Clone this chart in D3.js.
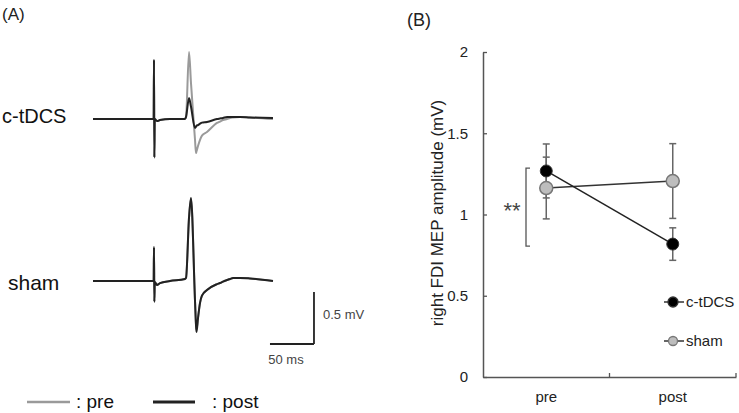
<!DOCTYPE html>
<html><head><meta charset="utf-8">
<script src="https://cdn.jsdelivr.net/npm/d3@7"></script>
<style>body{margin:0;background:#fff}svg{display:block}text{font-family:"Liberation Sans",Arial,sans-serif}</style>
</head><body><svg id="c" width="739" height="413"></svg>
<script>
// ---- Panel A: MEP traces (time in ms relative to stimulus, amplitude in mV relative to baseline)
const traceTimes = [-69.3,-0.4,0,0.4,0.9,3.4,6.8,18.2,35.2,36.4,39.8,42,46.6,47.7,48.3,50,52.3,54.5,60.2,71.6,75,78.4,83,86.4,89.8,97.7,109,135.2];
const ctdcsPre  = [0,0,0.57,-0.37,0,-0.02,-0.01,0,0,0.02,0.644,0.35,-0.2,-0.327,-0.31,-0.26,-0.2,-0.16,-0.125,-0.038,-0.025,-0.01,0,0.01,0.015,0.02,0.015,0];
const ctdcsPost = [0,0,0.57,-0.37,0,-0.02,-0.01,0,0,0.02,0.202,0.12,-0.087,-0.075,-0.065,-0.058,-0.045,-0.035,-0.029,0,0.005,0.01,0.02,0.02,0.02,0.02,0.015,0.01];
const shamPre   = [-0.01,-0.01,0.317,-0.21,-0.02,-0.048,-0.03,-0.01,0.01,0.02,0.6,0.78,-0.2,-0.42,-0.48,-0.36,-0.22,-0.15,-0.096,-0.04,-0.029,-0.015,0,0.01,0.02,0.02,0.015,-0.01];
const shamPost  = [-0.01,-0.01,0.317,-0.21,-0.02,-0.048,-0.03,-0.01,0.01,0.02,0.6,0.788,-0.2,-0.43,-0.5,-0.37,-0.22,-0.15,-0.096,-0.04,-0.029,-0.015,0,0.01,0.02,0.02,0.015,-0.01];
const traceRows = ["c-tDCS","sham"];
const scaleBarMs = 50, scaleBarMv = 0.5;
const traceLegend = [": pre", ": post"];

// ---- Panel B: MEP amplitude
const sessions = ["pre","post"];
const ctdcsMean = [1.268, 0.818];
const ctdcsErr  = [0.166, 0.100];
const shamMean  = [1.163, 1.206];
const shamErr   = [0.190, 0.230];
const yTicks = [0,0.5,1,1.5,2];
const yTickLabels = ["0","0.5","1","1.5","2"];
const groupNames = ["c-tDCS","sham"];

const svg = d3.select("#c");
const F = '"Liberation Sans",Arial,sans-serif';

// Panel labels
svg.append("text").attr("x",2).attr("y",20).attr("font-size",17).attr("fill","#222").text("(A)");
svg.append("text").attr("x",407).attr("y",26).attr("font-size",18).attr("fill","#222").text("(B)");

// ---- Panel A
const xT = d3.scaleLinear().domain([0,50]).range([154,198]);
const yC = d3.scaleLinear().domain([0,0.5]).range([119,67]);
const yS = d3.scaleLinear().domain([0,0.5]).range([280,228]);
function drawTrace(vals, y, color, w){
  const line = d3.line().x((d,i)=>xT(traceTimes[i])).y(d=>y(d)).curve(d3.curveMonotoneX);
  svg.append("path").attr("d", line(vals)).attr("fill","none").attr("stroke",color)
    .attr("stroke-width",w).attr("stroke-linejoin","round");
}
drawTrace(ctdcsPre, yC, "#9a9a9a", 2);
drawTrace(ctdcsPost, yC, "#222", 2);
drawTrace(shamPre, yS, "#9a9a9a", 2);
drawTrace(shamPost, yS, "#222", 2);

svg.append("text").attr("x",2).attr("y",123).attr("font-size",20).attr("fill","#111").text(traceRows[0]);
svg.append("text").attr("x",8).attr("y",290).attr("font-size",21).attr("fill","#111").text(traceRows[1]);

// scale bar
const sbT0 = 131.8;
const ySB = d3.scaleLinear().domain([0,0.5]).range([344,292]);
svg.append("line").attr("x1",xT(sbT0)).attr("x2",xT(sbT0+scaleBarMs)).attr("y1",ySB(0)).attr("y2",ySB(0)).attr("stroke","#222").attr("stroke-width",1.8);
svg.append("line").attr("x1",xT(sbT0+scaleBarMs)).attr("x2",xT(sbT0+scaleBarMs)).attr("y1",ySB(0)).attr("y2",ySB(scaleBarMv)).attr("stroke","#222").attr("stroke-width",1.8);
svg.append("text").attr("x",323).attr("y",319).attr("font-size",13).attr("fill","#444").text(scaleBarMv+" mV");
svg.append("text").attr("x",286).attr("y",364).attr("text-anchor","middle").attr("font-size",13).attr("fill","#444").text(scaleBarMs+" ms");

// trace legend
svg.append("line").attr("x1",27).attr("x2",70).attr("y1",402).attr("y2",402).attr("stroke","#9a9a9a").attr("stroke-width",2.5);
svg.append("text").attr("x",76).attr("y",408).attr("font-size",19).attr("fill","#111").text(traceLegend[0]);
svg.append("line").attr("x1",153).attr("x2",195).attr("y1",402).attr("y2",402).attr("stroke","#222").attr("stroke-width",3);
svg.append("text").attr("x",212).attr("y",408).attr("font-size",19).attr("fill","#111").text(traceLegend[1]);

// ---- Panel B
const x = d3.scaleBand().domain(sessions).range([483,736]);
const y = d3.scaleLinear().domain([0,2]).range([377,52]);
const axCol = "#555";
const yAxis = d3.axisLeft(y).tickValues(yTicks).tickFormat((d,i)=>yTickLabels[i]).tickSizeInner(-4).tickSizeOuter(0).tickPadding(15);
const gy = svg.append("g").attr("transform","translate(483,0)").call(yAxis);
gy.select(".domain").attr("stroke",axCol).attr("stroke-width",1.5);
gy.selectAll(".tick line").attr("stroke",axCol).attr("stroke-width",1.3);
gy.selectAll(".tick text").attr("font-size",15).attr("font-family",F).attr("fill","#222");

const xAxis = d3.axisBottom(x).tickSize(0).tickPadding(14);
const gx = svg.append("g").attr("transform","translate(0,377)").call(xAxis);
gx.select(".domain").attr("stroke",axCol).attr("stroke-width",1.5);
gx.selectAll(".tick text").attr("font-size",15).attr("font-family",F).attr("fill","#222");
// inward category boundary ticks
[x.bandwidth()+x(sessions[0]), x.range()[1]].forEach(px=>{
  svg.append("line").attr("x1",px).attr("x2",px).attr("y1",377).attr("y2",373).attr("stroke",axCol).attr("stroke-width",1.3);
});

svg.append("text").attr("transform","translate(443,213) rotate(-90)").attr("text-anchor","middle")
  .attr("font-size",17).attr("fill","#222").text("right FDI MEP amplitude (mV)");

const cx = s => x(s)+x.bandwidth()/2;
function errBars(means, errs){
  means.forEach((m,i)=>{
    const px = cx(sessions[i]);
    svg.append("line").attr("x1",px).attr("x2",px).attr("y1",y(m-errs[i])).attr("y2",y(m+errs[i])).attr("stroke","#666").attr("stroke-width",1.5);
    [m-errs[i], m+errs[i]].forEach(v=>svg.append("line").attr("x1",px-3.5).attr("x2",px+3.5).attr("y1",y(v)).attr("y2",y(v)).attr("stroke","#666").attr("stroke-width",1.5));
  });
}
errBars(shamMean, shamErr);
errBars(ctdcsMean, ctdcsErr);
const ln = d3.line().x((d,i)=>cx(sessions[i])).y(d=>y(d));
svg.append("path").attr("d",ln(shamMean)).attr("fill","none").attr("stroke","#333").attr("stroke-width",1.5);
svg.append("path").attr("d",ln(ctdcsMean)).attr("fill","none").attr("stroke","#222").attr("stroke-width",1.5);
svg.selectAll(".sham").data(shamMean).enter().append("circle").attr("cx",(d,i)=>cx(sessions[i])).attr("cy",d=>y(d)).attr("r",6.5).attr("fill","#bdbdbd").attr("stroke","#777").attr("stroke-width",1.5);
svg.selectAll(".ct").data(ctdcsMean).enter().append("circle").attr("cx",(d,i)=>cx(sessions[i])).attr("cy",d=>y(d)).attr("r",6).attr("fill","#000").attr("stroke","#333").attr("stroke-width",1);

// significance bracket
const by1 = y(1.285), by2 = y(0.805);
svg.append("path").attr("d",`M530,${by1}H526V${by2}H530`).attr("fill","none").attr("stroke","#555").attr("stroke-width",1.3);
svg.append("text").attr("x",512).attr("y",218).attr("text-anchor","middle").attr("font-size",22).attr("fill","#444").text("**");

// legend panel B
const legY = [302, 341];
[["#000","#333",6],["#bdbdbd","#777",5.5]].forEach((s,i)=>{
  svg.append("line").attr("x1",664).attr("x2",684).attr("y1",legY[i]).attr("y2",legY[i]).attr("stroke","#333").attr("stroke-width",1.5);
  svg.append("circle").attr("cx",673).attr("cy",legY[i]).attr("r",s[2]-1).attr("fill",s[0]).attr("stroke",s[1]).attr("stroke-width",1.3);
  svg.append("text").attr("x",686).attr("y",legY[i]+5).attr("font-size",15).attr("fill","#222").text(groupNames[i]);
});
</script></body></html>
